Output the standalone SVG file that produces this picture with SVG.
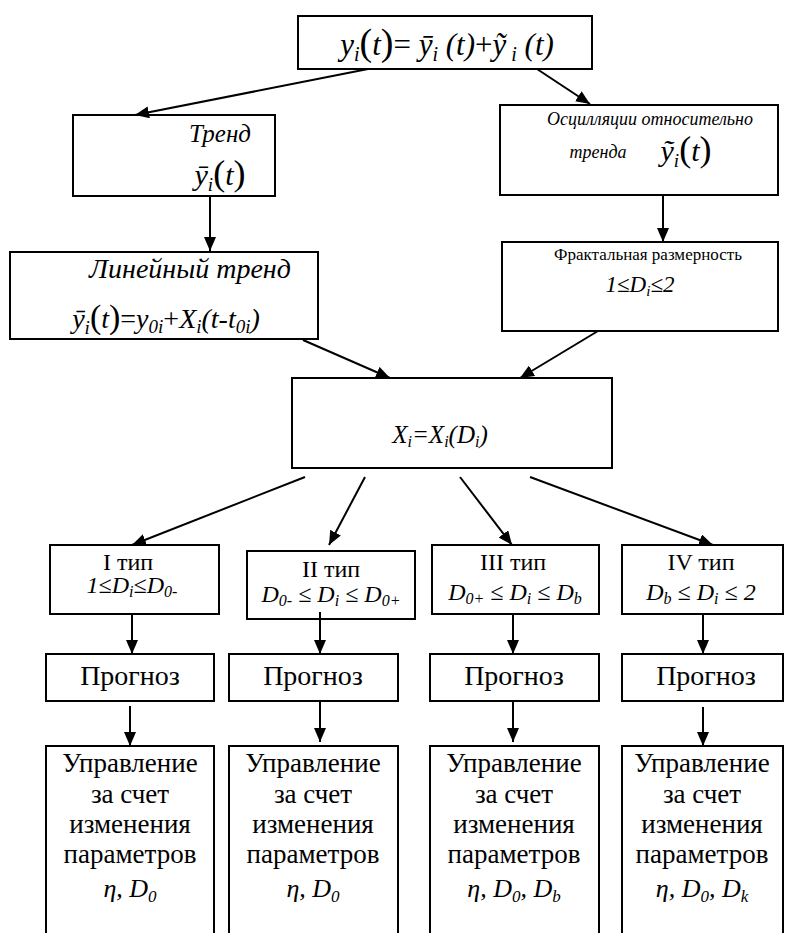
<svg xmlns="http://www.w3.org/2000/svg" width="785" height="933" viewBox="0 0 785 933">
<defs>
<marker id="ah" markerUnits="userSpaceOnUse" markerWidth="14" markerHeight="12" refX="14" refY="6" orient="auto">
<path d="M0,0 L14,6 L0,12 z" fill="#000"/>
</marker>
</defs>
<rect width="785" height="933" fill="#fff"/>
<g id="prog1" font-size="28"><rect x="46" y="654" width="168" height="47" fill="#fff" stroke="#000" stroke-width="2"/><text x="130" y="685" font-family="Liberation Serif" text-anchor="middle">Прогноз</text></g>
<g id="prog2" font-size="28"><rect x="229" y="654" width="169" height="47" fill="#fff" stroke="#000" stroke-width="2"/><text x="313" y="685" font-family="Liberation Serif" text-anchor="middle">Прогноз</text></g>
<g id="prog3" font-size="28"><rect x="430" y="654" width="169" height="47" fill="#fff" stroke="#000" stroke-width="2"/><text x="514" y="685" font-family="Liberation Serif" text-anchor="middle">Прогноз</text></g>
<g id="prog4" font-size="28"><rect x="622" y="654" width="161" height="47" fill="#fff" stroke="#000" stroke-width="2"/><text x="706" y="685" font-family="Liberation Serif" text-anchor="middle">Прогноз</text></g>
<g id="ctrl1" font-size="27"><rect x="46" y="746" width="168" height="200" fill="#fff" stroke="#000" stroke-width="2"/>
<text x="130" y="772" font-family="Liberation Serif" text-anchor="middle">Управление</text>
<text x="130" y="803" font-family="Liberation Serif" text-anchor="middle">за счет</text>
<text x="130" y="833" font-family="Liberation Serif" text-anchor="middle">изменения</text>
<text x="130" y="863" font-family="Liberation Serif" text-anchor="middle">параметров</text></g>
<g id="ctrl2" font-size="27"><rect x="229" y="746" width="169" height="200" fill="#fff" stroke="#000" stroke-width="2"/>
<text x="313" y="772" font-family="Liberation Serif" text-anchor="middle">Управление</text>
<text x="313" y="803" font-family="Liberation Serif" text-anchor="middle">за счет</text>
<text x="313" y="833" font-family="Liberation Serif" text-anchor="middle">изменения</text>
<text x="313" y="863" font-family="Liberation Serif" text-anchor="middle">параметров</text></g>
<g id="ctrl3" font-size="27"><rect x="430" y="746" width="169" height="200" fill="#fff" stroke="#000" stroke-width="2"/>
<text x="514" y="772" font-family="Liberation Serif" text-anchor="middle">Управление</text>
<text x="514" y="803" font-family="Liberation Serif" text-anchor="middle">за счет</text>
<text x="514" y="833" font-family="Liberation Serif" text-anchor="middle">изменения</text>
<text x="514" y="863" font-family="Liberation Serif" text-anchor="middle">параметров</text></g>
<g id="ctrl4" font-size="27"><rect x="622" y="746" width="161" height="200" fill="#fff" stroke="#000" stroke-width="2"/>
<text x="702" y="772" font-family="Liberation Serif" text-anchor="middle">Управление</text>
<text x="702" y="803" font-family="Liberation Serif" text-anchor="middle">за счет</text>
<text x="702" y="833" font-family="Liberation Serif" text-anchor="middle">изменения</text>
<text x="702" y="863" font-family="Liberation Serif" text-anchor="middle">параметров</text></g>
<g id="trend"><rect x="73" y="115" width="202" height="81" fill="#fff" stroke="#000" stroke-width="2"/>
<text x="220" y="142" font-family="Liberation Serif" text-anchor="middle" font-style="italic" font-size="25">Тренд</text></g>
<g id="osc"><rect x="500" y="105" width="278" height="90" fill="#fff" stroke="#000" stroke-width="2"/>
<text x="650" y="125" font-family="Liberation Serif" text-anchor="middle" font-style="italic" font-size="18">Осцилляции относительно</text>
<text x="598" y="158" font-family="Liberation Serif" text-anchor="middle" font-style="italic" font-size="18">тренда</text></g>
<g id="linear"><rect x="10" y="252" width="308" height="87" fill="#fff" stroke="#000" stroke-width="2"/>
<text x="190" y="278" font-family="Liberation Serif" text-anchor="middle" font-style="italic" font-size="28">Линейный тренд</text></g>
<g id="fractal"><rect x="502" y="242" width="276" height="89" fill="#fff" stroke="#000" stroke-width="2"/>
<text x="648" y="260" font-family="Liberation Serif" text-anchor="middle" font-size="17">Фрактальная размерность</text></g>
<g id="type1"><rect x="50" y="545" width="169" height="69" fill="#fff" stroke="#000" stroke-width="2"/>
<text x="128" y="570" font-family="Liberation Serif" text-anchor="middle" font-size="24">I тип</text></g>
<g id="type2"><rect x="247" y="551" width="168" height="68" fill="#fff" stroke="#000" stroke-width="2"/>
<text x="331" y="577" font-family="Liberation Serif" text-anchor="middle" font-size="24">II тип</text></g>
<g id="type3"><rect x="432" y="545" width="167" height="69" fill="#fff" stroke="#000" stroke-width="2"/>
<text x="513" y="570" font-family="Liberation Serif" text-anchor="middle" font-size="24">III тип</text></g>
<g id="type4"><rect x="622" y="545" width="161" height="69" fill="#fff" stroke="#000" stroke-width="2"/>
<text x="701" y="570" font-family="Liberation Serif" text-anchor="middle" font-size="24">IV тип</text></g>
<g id="top"><rect x="298" y="16" width="294" height="53" fill="#fff" stroke="#000" stroke-width="2"/></g>
<g id="x"><rect x="292" y="378" width="320" height="90" fill="#fff" stroke="#000" stroke-width="2"/></g>
<g id="connectors" stroke="#000" stroke-width="2" marker-end="url(#ah)">
<line x1="368" y1="69" x2="135" y2="115"/>
<line x1="537" y1="69" x2="590" y2="104"/>
<line x1="210" y1="196" x2="210" y2="251"/>
<line x1="663" y1="195" x2="663" y2="242"/>
<line x1="303" y1="340" x2="390" y2="378"/>
<line x1="598" y1="331" x2="520" y2="378"/>
<line x1="305" y1="477" x2="132" y2="545"/>
<line x1="365" y1="477" x2="329" y2="545"/>
<line x1="460" y1="477" x2="512" y2="545"/>
<line x1="530" y1="477" x2="713" y2="545"/>
<line x1="132" y1="614" x2="132" y2="654"/>
<line x1="320" y1="612" x2="320" y2="654"/>
<line x1="513" y1="614" x2="513" y2="654"/>
<line x1="703" y1="614" x2="703" y2="654"/>
<line x1="130" y1="706" x2="130" y2="746"/>
<line x1="320" y1="701" x2="320" y2="742"/>
<line x1="513" y1="701" x2="513" y2="742"/>
<line x1="703" y1="707" x2="703" y2="746"/>
</g>
<g id="formulas" font-family="Liberation Serif" text-anchor="middle" font-style="italic">
<text x="447" y="55" font-size="31">y<tspan font-size="20" dy="6">i</tspan><tspan dy="-6" font-size="38" font-style="normal">(</tspan>t<tspan font-size="38" font-style="normal">)</tspan><tspan font-style="normal">= </tspan>ȳ<tspan font-size="20" dy="6">i</tspan><tspan dy="-6"> (t)</tspan><tspan font-style="normal">+</tspan>ỹ<tspan font-size="20" dy="6"> i</tspan><tspan dy="-6"> (t)</tspan></text>
<text x="220" y="185" font-size="30">ȳ<tspan font-size="19" dy="6">i</tspan><tspan dy="-6" font-size="36" font-style="normal">(</tspan>t<tspan font-size="36" font-style="normal">)</tspan></text>
<text x="686" y="161" font-size="30">ỹ<tspan font-size="19" dy="6">i</tspan><tspan dy="-6" font-size="36" font-style="normal">(</tspan>t<tspan font-size="36" font-style="normal">)</tspan></text>
<text x="166" y="328" font-size="28">ȳ<tspan font-size="19" dy="6">i</tspan><tspan dy="-6" font-size="34" font-style="normal">(</tspan>t<tspan font-size="34" font-style="normal">)</tspan><tspan font-style="normal">=</tspan>y<tspan font-size="19" dy="5">0i</tspan><tspan dy="-5" font-style="normal">+</tspan>X<tspan font-size="19" dy="5">i</tspan><tspan dy="-5">(t-t</tspan><tspan font-size="19" dy="5">0i</tspan><tspan dy="-5">)</tspan></text>
<text x="640" y="292" font-size="23">1≤D<tspan font-size="15" dy="4">i</tspan><tspan dy="-4">≤2</tspan></text>
<text x="440" y="443" font-size="25">X<tspan font-size="16" dy="4">i</tspan><tspan dy="-4">=X</tspan><tspan font-size="16" dy="4">i</tspan><tspan dy="-4">(D</tspan><tspan font-size="16" dy="4">i</tspan><tspan dy="-4">)</tspan></text>
<text x="132" y="593" font-size="24">1≤D<tspan font-size="16" dy="4">i</tspan><tspan dy="-4">≤D</tspan><tspan font-size="16" dy="4">0-</tspan></text>
<text x="331" y="602" font-size="24">D<tspan font-size="16" dy="4">0-</tspan><tspan dy="-4"> ≤ D</tspan><tspan font-size="16" dy="4">i</tspan><tspan dy="-4"> ≤ D</tspan><tspan font-size="16" dy="4">0+</tspan></text>
<text x="515" y="600" font-size="24">D<tspan font-size="16" dy="4">0+</tspan><tspan dy="-4"> ≤ D</tspan><tspan font-size="16" dy="4">i</tspan><tspan dy="-4"> ≤ D</tspan><tspan font-size="16" dy="4">b</tspan></text>
<text x="701" y="600" font-size="24">D<tspan font-size="16" dy="4">b</tspan><tspan dy="-4"> ≤ D</tspan><tspan font-size="16" dy="4">i</tspan><tspan dy="-4"> ≤ 2</tspan></text>
<text x="130" y="897" font-size="26">η, D<tspan font-size="17" dy="5">0</tspan></text>
<text x="313" y="897" font-size="26">η, D<tspan font-size="17" dy="5">0</tspan></text>
<text x="514" y="897" font-size="26">η, D<tspan font-size="17" dy="5">0</tspan><tspan dy="-5">, D</tspan><tspan font-size="17" dy="5">b</tspan></text>
<text x="702" y="897" font-size="26">η, D<tspan font-size="17" dy="5">0</tspan><tspan dy="-5">, D</tspan><tspan font-size="17" dy="5">k</tspan></text>
</g>
</svg>
